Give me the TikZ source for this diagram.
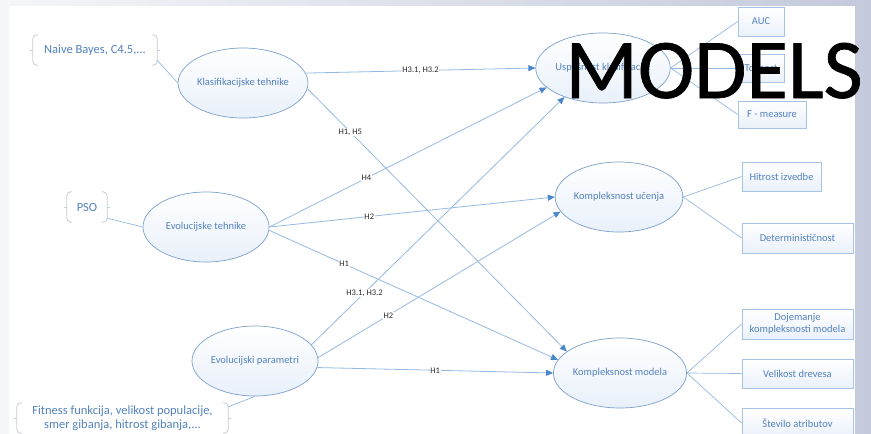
\documentclass[tikz,border=0pt]{standalone}
\usepackage{fontspec}
\setmainfont{Carlito}
\newfontfamily\titlefont[FakeBold=0.8]{Carlito}
\usetikzlibrary{shapes.geometric,arrows.meta}
\definecolor{txtblue}{RGB}{84,130,190}
\definecolor{ellline}{RGB}{125,160,205}
\definecolor{arrline}{RGB}{150,185,225}
\definecolor{arrhead}{RGB}{75,135,205}
\definecolor{boxline}{RGB}{165,195,228}
\definecolor{brkline}{RGB}{200,205,215}
\definecolor{ellbot}{RGB}{232,240,250}
\definecolor{boxbot}{RGB}{234,241,250}
\definecolor{lbltext}{RGB}{40,40,40}
\definecolor{bgleft}{RGB}{245,246,248}
\definecolor{bgright}{RGB}{196,202,220}
\tikzset{
  ell/.style={ellipse, draw=ellline, line width=0.7pt, minimum width=126pt, minimum height=70pt, inner sep=0pt,
    top color=white, bottom color=ellbot, text=txtblue, font=\fontsize{10.5}{12}\selectfont},
  mbox/.style={rectangle, draw=boxline, line width=0.8pt, inner sep=1pt, align=center,
    top color=white, bottom color=boxbot, text=txtblue, font=\fontsize{10.5}{12}\selectfont},
  brbox/.style={rectangle, inner sep=0pt, align=center, text=txtblue, font=\fontsize{12.5}{14}\selectfont},
  brk/.style={draw=brkline, line width=0.8pt, rounded corners=4pt},
  conn/.style={draw=arrline, line width=0.7pt},
  arr/.style={draw=arrline, line width=0.8pt, -{Triangle[length=7pt,width=6pt,color=arrhead]}},
  lbl/.style={fill=white, inner sep=0.6pt, text=lbltext, font=\fontsize{8.5}{9}\selectfont}
}
\newcommand\mybracket[1]{%
  \draw[brk] ([xshift=5pt]#1.north west) -- (#1.north west) -- (#1.south west) -- ([xshift=5pt]#1.south west);
  \draw[brk] ([xshift=-5pt]#1.north east) -- (#1.north east) -- (#1.south east) -- ([xshift=-5pt]#1.south east);
  \draw[draw=brkline, line width=0.8pt] (#1.west) -- ++(-3,0);
  \draw[draw=brkline, line width=0.8pt] (#1.east) -- ++(3,0);
}
\begin{document}
\begin{tikzpicture}[x=1pt,y=-1pt]
\useasboundingbox (0,0) rectangle (871,434);
\shade[left color=bgleft, right color=bgright] (0,0) rectangle (871,434);
\fill[white] (9,6) rectangle (855,434);

% ellipses
\node[ell] (klas) at (243,83) {Klasifikacijske tehnike};
\node[ell] (evo) at (206,227) {Evolucijske tehnike};
\node[ell] (par) at (255,361) {Evolucijski parametri};
\node[ell] (usp) at (603,68) {Uspešnost klasifikacije};
\node[ell] (uce) at (619,197) {Kompleksnost učenja};
\node[ell] (mod) at (620,373) {Kompleksnost modela};

% right boxes
\node[mbox, minimum width=46pt, minimum height=29pt] (auc) at (761,21.5) {AUC};
\node[mbox, minimum width=46pt, minimum height=28pt] (toc) at (761,68) {Točnost};
\node[mbox, minimum width=68pt, minimum height=27pt] (fm) at (772,114.5) {F - measure};
\node[mbox, minimum width=79pt, minimum height=29pt] (hit) at (781.5,176.5) {Hitrost izvedbe};
\node[mbox, minimum width=111pt, minimum height=30pt] (det) at (797.5,238) {Determinističnost};
\node[mbox, minimum width=111pt, minimum height=30pt] (doj) at (797.5,324) {Dojemanje\\kompleksnosti modela};
\node[mbox, minimum width=111pt, minimum height=29pt] (vel) at (797.5,373.5) {Velikost drevesa};
\node[mbox, minimum width=111pt, minimum height=30pt] (ste) at (797.5,423) {Število atributov};

% bracket boxes
\node[brbox, minimum width=124pt, minimum height=30pt] (naive) at (95,50) {Naive Bayes, C4.5,...};
\node[brbox, minimum width=40pt, minimum height=30pt] (pso) at (87,207) {PSO};
\node[brbox, minimum width=211pt, minimum height=30pt, font=\fontsize{12.5}{13.5}\selectfont] (fit) at (122.5,418) {Fitness funkcija, velikost populacije,\\smer gibanja, hitrost gibanja,...};
\mybracket{naive}
\mybracket{pso}
\mybracket{fit}

% plain connectors
\draw[conn] ([yshift=5pt]naive.south east) -- (klas.west);
\draw[conn] ([yshift=4pt]pso.south east) -- (evo.west);
\draw[conn] ([yshift=-4pt]fit.north east) -- (par.south);
\draw[conn] (usp.east) -- (auc.west);
\draw[conn] (usp.east) -- (toc.west);
\draw[conn] (usp.east) -- (fm.west);
\draw[conn] (uce.east) -- (hit.west);
\draw[conn] (uce.east) -- (det.west);
\draw[conn] (mod.east) -- (doj.west);
\draw[conn] (mod.east) -- (vel.west);
\draw[conn] (mod.east) -- (ste.west);

% hypotheses arrows
\draw[arr] (klas.9) -- node[lbl]{H3.1, H3.2} (usp.west);
\draw[arr] (klas.-5) -- node[lbl,pos=0.165]{H1, H5} (mod.158);
\draw[arr] (evo.east) -- node[lbl,pos=0.35]{H4} (usp.-161);
\draw[arr] (evo.east) -- node[lbl,pos=0.35]{H2} (uce.west);
\draw[arr] (evo.-3) -- node[lbl,pos=0.26]{H1} (mod.168);
\draw[arr] (par.16) -- node[lbl,pos=0.21]{H3.1, H3.2} (usp.-143);
\draw[arr] (par.3) -- node[lbl,pos=0.29]{H2} (uce.-166);
\draw[arr] (par.-6) -- node[lbl]{H1} (mod.west);

% overlay title
\node[anchor=base, inner sep=0pt, text=black, font=\titlefont\fontsize{85}{85}\selectfont] (title) at (714,98) {MODELS};
\end{tikzpicture}
\end{document}
